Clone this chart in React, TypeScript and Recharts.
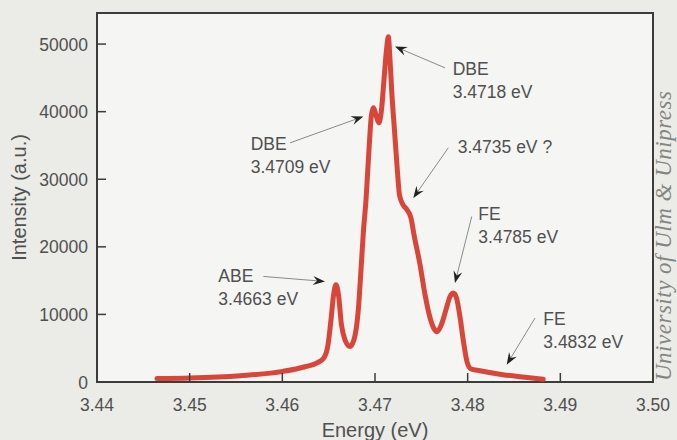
import React from 'react';
import {
  LineChart,
  Line,
  XAxis,
  YAxis,
  ReferenceArea,
  ReferenceLine,
  ReferenceDot,
  Customized,
} from 'recharts';

// Photon energy (eV)
const energy = [
  3.44647, 3.45004, 3.45543, 3.46007, 3.46245, 3.46385, 3.4645, 3.46493, 3.46525, 3.46552,
  3.46579, 3.46606, 3.46638, 3.46676, 3.4673, 3.46773, 3.4682, 3.46849, 3.46874, 3.46903,
  3.46935, 3.46962, 3.46983, 3.4701, 3.47043, 3.4707, 3.47097, 3.47124, 3.47144, 3.47162,
  3.47183, 3.4721, 3.47237, 3.47264, 3.47302, 3.47345, 3.47388, 3.47421, 3.47486, 3.4754,
  3.47594, 3.47637, 3.47669, 3.47712, 3.47766, 3.47809, 3.47845, 3.47879, 3.47917, 3.47955,
  3.47993, 3.48031, 3.48133, 3.48381, 3.48619, 3.48816,
];

// PL intensity (a.u.)
const intensity = [
  500, 590, 930, 1570, 2260, 2900, 3600, 5500, 9200, 12760,
  14390, 12900, 8470, 6250, 5270, 6250, 10700, 16610, 22080, 26960,
  34360, 39530, 40570, 39530, 38350, 40270, 44710, 49150, 51070, 47670,
  42490, 37310, 32130, 27700, 26230, 25490, 24300, 21800, 17350, 12910,
  9510, 7880, 7440, 8330, 10700, 12620, 13160, 12470, 9660, 5960,
  3000, 1970, 1670, 1080, 710, 410,
];

const xTicks = [3.44, 3.45, 3.46, 3.47, 3.48, 3.49, 3.5];
const yTicks = [0, 10000, 20000, 30000, 40000, 50000];
const xDomain = [3.44, 3.5];
const yDomain = [0, 54600];

// Annotations: text lines, text anchor [E, I], arrow start [E, I], arrow tip [E, I]
const annotationText = [
  ['ABE', '3.4663 eV'],
  ['DBE', '3.4709 eV'],
  ['DBE', '3.4718 eV'],
  ['3.4735 eV ?'],
  ['FE', '3.4785 eV'],
  ['FE', '3.4832 eV'],
];
const annotationAt = [
  [3.45309, 14790],
  [3.45659, 34357],
  [3.47839, 45450],
  [3.47893, 33870],
  [3.48115, 24004],
  [3.48816, 8475],
];
const arrowFrom = [
  [3.45795, 15618],
  [3.46083, 35389],
  [3.47755, 46486],
  [3.47791, 34654],
  [3.48044, 24492],
  [3.48727, 9466],
];
const arrowTo = [
  [3.4646, 14879],
  [3.46874, 39282],
  [3.47216, 49636],
  [3.47413, 27214],
  [3.47863, 14642],
  [3.48421, 2559],
];

const data = energy.map((e, i) => ({ e, v: intensity[i] }));

const FONT = '"Liberation Sans", Arial, Helvetica, sans-serif';
const TEXT = '#505050';
const FRAME = '#3c3c3c';

const XTick = (props: any) => {
  const { x, y, payload } = props;
  return (
    <g>
      <line x1={x} y1={y} x2={x} y2={y - 9} stroke={FRAME} strokeWidth={1.5} />
      <text x={x} y={y + 29} textAnchor="middle" fontFamily={FONT} fontSize={17.5} fill={TEXT}>
        {Number(payload.value).toFixed(2)}
      </text>
    </g>
  );
};

const YTick = (props: any) => {
  const { x, y, payload } = props;
  return (
    <g>
      <line x1={x} y1={y} x2={x + 9} y2={y} stroke={FRAME} strokeWidth={1.5} />
      <text x={x - 9} y={y + 6.5} textAnchor="end" fontFamily={FONT} fontSize={17.5} fill={TEXT}>
        {payload.value}
      </text>
    </g>
  );
};

const Arrow = (props: any) => {
  const { x1, y1, x2, y2 } = props;
  const dx = x2 - x1;
  const dy = y2 - y1;
  const len = Math.sqrt(dx * dx + dy * dy) || 1;
  const ux = dx / len;
  const uy = dy / len;
  const px = -uy;
  const py = ux;
  const L = 12;
  const W = 4.5;
  const bx = x2 - ux * L;
  const by = y2 - uy * L;
  const nx = x2 - ux * L * 0.65;
  const ny = y2 - uy * L * 0.65;
  const pts = `${x2},${y2} ${bx + px * W},${by + py * W} ${nx},${ny} ${bx - px * W},${by - py * W}`;
  return (
    <g>
      <line x1={x1} y1={y1} x2={nx} y2={ny} stroke="#8a8a8a" strokeWidth={1} />
      <polygon points={pts} fill="#222" />
    </g>
  );
};

const AnnotationText = (lines: string[]) => (props: any) => {
  const { cx, cy } = props;
  return (
    <text x={cx} y={cy} fontFamily={FONT} fontSize={17.5} fill={TEXT}>
      {lines.map((t, i) => (
        <tspan key={i} x={cx} dy={i === 0 ? 0 : 23}>
          {t}
        </tspan>
      ))}
    </text>
  );
};

const Credit = () => (
  <text
    transform="translate(671, 236) rotate(-90)"
    textAnchor="middle"
    fontFamily='"Liberation Serif", "Times New Roman", serif'
    fontStyle="italic"
    fontSize={23}
    textLength={290}
    lengthAdjust="spacing"
    fill="#858580"
  >
    University of Ulm &amp; Unipress
  </text>
);

export default function App() {
  return (
    <div
      style={{
        position: 'absolute',
        left: 0,
        top: 0,
        width: 677,
        height: 440,
        background: '#ebebe7',
        overflow: 'hidden',
      }}
    >
      <LineChart width={677} height={440} data={data} margin={{ top: 13, right: 24, bottom: 0, left: 0 }}>
        <ReferenceArea
          x1={xDomain[0]}
          x2={xDomain[1]}
          y1={yDomain[0]}
          y2={yDomain[1]}
          fill="#f5f5f3"
          fillOpacity={1}
          stroke={FRAME}
          strokeWidth={2}
          ifOverflow="visible"
        />
        <XAxis
          dataKey="e"
          type="number"
          domain={xDomain}
          ticks={xTicks}
          allowDataOverflow
          height={58}
          tickSize={0}
          tickMargin={0}
          tickLine={false}
          axisLine={false}
          tick={<XTick />}
          interval={0}
          label={{ value: 'Energy (eV)', position: 'insideBottom', offset: 3, fontSize: 20, fill: TEXT, fontFamily: FONT }}
        />
        <YAxis
          type="number"
          domain={yDomain}
          ticks={yTicks}
          allowDataOverflow
          width={97}
          tickSize={0}
          tickMargin={0}
          tickLine={false}
          axisLine={false}
          tick={<YTick />}
          interval={0}
          label={{
            content: (p: any) => {
              const vb = p.viewBox || { x: 0, y: 13, width: 97, height: 369 };
              const cx = vb.x + 26;
              const cy = vb.y + vb.height / 2;
              return (
                <text
                  transform={`translate(${cx}, ${cy}) rotate(-90)`}
                  textAnchor="middle"
                  fontFamily={FONT}
                  fontSize={20}
                  fill={TEXT}
                >
                  Intensity (a.u.)
                </text>
              );
            },
          }}
        />
        <Line
          type="monotone"
          dataKey="v"
          stroke="#d8463a"
          strokeWidth={5}
          strokeLinecap="round"
          strokeLinejoin="round"
          dot={false}
          isAnimationActive={false}
        />
        {annotationText.map((lines, i) => (
          <ReferenceLine
            key={`a${i}`}
            segment={[
              { x: arrowFrom[i][0], y: arrowFrom[i][1] },
              { x: arrowTo[i][0], y: arrowTo[i][1] },
            ]}
            ifOverflow="visible"
            shape={Arrow}
          />
        ))}
        {annotationText.map((lines, i) => (
          <ReferenceDot
            key={`t${i}`}
            x={annotationAt[i][0]}
            y={annotationAt[i][1]}
            r={0}
            ifOverflow="visible"
            shape={AnnotationText(lines)}
          />
        ))}
        <Customized component={Credit} />
      </LineChart>
    </div>
  );
}
